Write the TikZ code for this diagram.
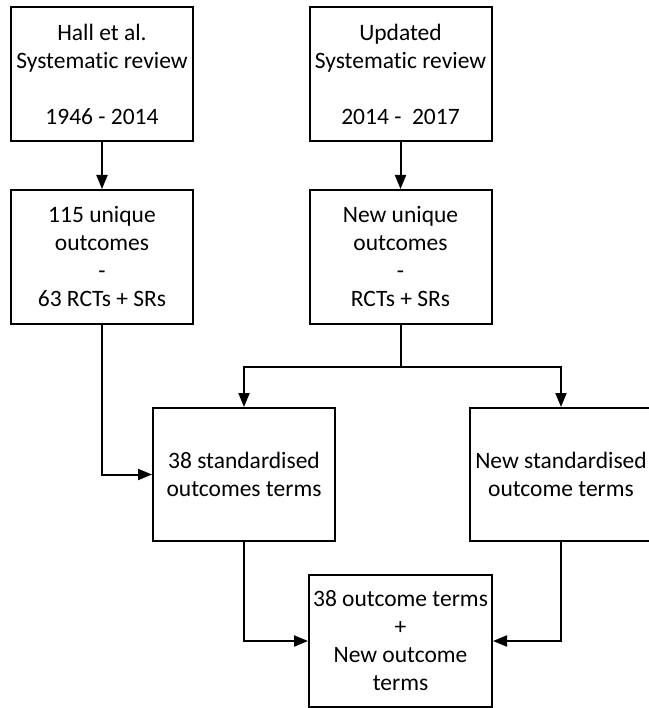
\documentclass[tikz,border=0pt]{standalone}
\usepackage{fontspec}
\setmainfont{Carlito}[Ligatures=NoCommon]
\usetikzlibrary{arrows.meta,calc}
\begin{document}
\begin{tikzpicture}[x=1pt,y=-1pt,
  box/.style={draw,line width=2pt,minimum width=182pt,minimum height=134pt,inner sep=0pt,align=center,
    font=\fontsize{23.5}{28}\selectfont},
  conn/.style={line width=2pt},
  arr/.style={conn,-{Triangle[length=14pt,width=11pt]}}]
\useasboundingbox (0,0) rectangle (648,708);
\node[box] (b1) at (102,74.5) {Hall et al.\\Systematic review\\[28pt]1946 - 2014};
\node[box] (b2) at (102,257) {115 unique\\outcomes\\-\\63 RCTs + SRs};
\node[box] (b3) at (400.5,74.5) {Updated\\Systematic review\\[28pt]2014 -\ \ 2017};
\node[box] (b4) at (400.5,257) {New unique\\outcomes\\-\\RCTs + SRs};
\node[box,minimum height=133pt] (b5) at (244,474.5) {38 standardised\\outcomes terms};
\node[box,minimum height=133pt] (b6) at (561,474.5) {New standardised\\outcome terms};
\node[box,minimum width=183pt,minimum height=132pt] (b7) at (400.5,641) {38 outcome terms\\+\\New outcome\\terms};
\coordinate (s) at ($(b4.south)+(0,42)$);
\draw[arr] (b1.south) -- (b2.north);
\draw[arr] (b3.south) -- (b4.north);
\draw[arr] (b2.south) |- (b5.west);
\draw[conn] (b4.south) -- (s);
\draw[arr] (s) -| (b5.north);
\draw[arr] (s) -| (b6.north);
\draw[arr] (b5.south) |- (b7.west);
\draw[arr] (b6.south) |- (b7.east);
\end{tikzpicture}
\end{document}
